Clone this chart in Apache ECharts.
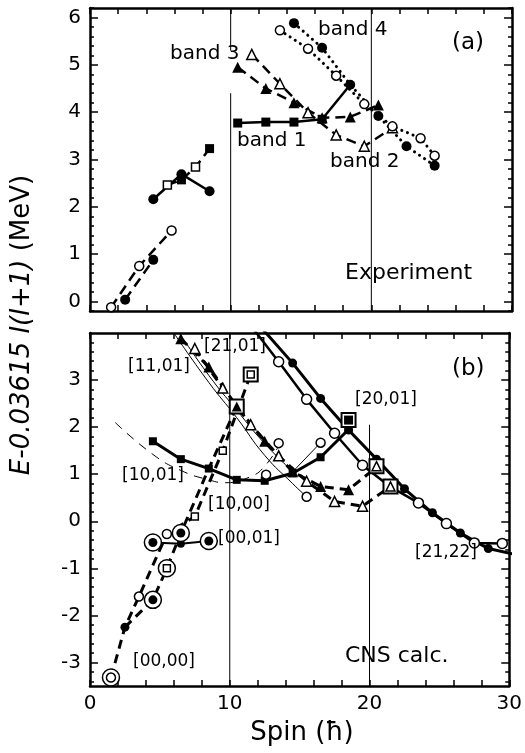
<!DOCTYPE html>
<html><head><meta charset="utf-8">
<script src="https://cdn.jsdelivr.net/npm/echarts@6/dist/echarts.min.js"></script>
<style>html,body{margin:0;padding:0;background:#fff}#c{width:525px;height:753px}</style>
</head><body><div id="c"></div>
<script>
// ---------- tick values ----------
const xTicks = [0,2,4,6,8,10,12,14,16,18,20,22,24,26,28,30];
const xLabels = [0,10,20,30];
const topMajorY = [0,1,2,3,4,5,6];
const botMajorY = [-3,-2,-1,0,1,2,3];

// ---------- (a) Experiment ----------
const tLowOpen    = [[1.5,-0.12],[3.5,0.75],[5.8,1.5]];
const tLowFilled  = [[2.5,0.04],[4.5,0.88]];
const tPairCirc   = [[4.5,2.16],[6.5,2.69],[8.5,2.33]];
const tPairSq     = [[5.5,2.46],[6.5,2.57],[7.5,2.84],[8.5,3.23]];
const tPairSqOpen = [[5.5,2.46],[7.5,2.84]];
const tPairSqFill = [[6.5,2.57],[8.5,3.23]];
const band1       = [[10.5,3.77],[12.5,3.79],[14.5,3.79],[16.5,3.85]];
const band1Link   = [[16.5,3.85],[18.5,4.58]];
const band3       = [[10.5,4.95],[12.5,4.5],[14.5,4.2],[16.5,3.88],[18.5,3.9],[20.5,4.15]];
const band2       = [[11.5,5.22],[13.5,4.6],[15.5,3.99],[17.5,3.52],[19.5,3.28],[21.5,3.67]];
const band4Open   = [[13.5,5.73],[15.5,5.34],[17.5,4.77],[19.5,4.17],[21.5,3.70],[23.5,3.45],[24.5,3.08]];
const band4Filled = [[14.5,5.88],[16.5,5.36],[18.5,4.58],[20.5,3.92],[22.5,3.28],[24.5,2.87]];

// ---------- (b) CNS calc. ----------
const bChainA     = [[1.5,-3.32],[2.5,-2.25],[3.5,-1.6],[5.5,-0.27],[7.5,0.1],[9.5,1.5],[11.5,3.12]];
const bChainB     = [[2.5,-2.25],[4.5,-1.67],[5.5,-1.0],[6.5,-0.25],[8.5,1.12],[10.5,2.44]];
const b0001       = [[4.5,-0.45],[6.5,-0.48],[8.5,-0.42]];
const b1001       = [[4.5,1.70],[6.5,1.32],[8.5,1.12],[10.5,0.88],[12.5,0.86],[14.5,1.02],[16.5,1.36],[18.5,1.95]];
const b1001Thin   = [[14.5,1.05],[16.5,1.67]];
const b1000       = [[1.8,2.1],[4.5,1.42],[6.5,1.08],[8.5,0.88],[9.7,0.82],[11.5,0.95],[12.5,1.17],[13.5,1.6]];
const b1101a      = [[6.0,4.0],[8.5,2.95],[10.5,2.2],[12.5,1.4],[14.5,0.8],[15.5,0.52]];
const b1101b      = [[6.4,4.0],[8.5,3.1],[10.5,2.36],[12.5,1.65],[14.5,1.06]];
const b2101Filled = [[6.5,3.88],[8.5,3.28],[10.5,2.44],[12.5,1.70],[14.5,1.05],[16.5,0.74],[18.5,0.67],[20.5,1.15]];
const b2101Open   = [[7.5,3.67],[9.5,2.83],[11.5,2.05],[13.5,1.39],[15.5,0.85],[17.5,0.42],[19.5,0.32],[21.5,0.74]];
const b2001Filled = [[12.3,4.1],[14.5,3.36],[16.5,2.61],[18.5,1.94],[20.5,1.32],[22.5,0.69],[24.5,0.18],[26.5,-0.25],[28.5,-0.58],[30.5,-0.71]];
const b2001Open   = [[11.4,4.2],[13.5,3.39],[15.5,2.59],[17.5,1.87],[19.5,1.19],[21.5,0.73],[23.5,0.39],[25.5,-0.05],[27.5,-0.46],[29.5,-0.47]];
const bRings      = [[1.5,-3.32],[4.5,-1.67],[5.5,-1.0],[6.5,-0.25],[4.5,-0.45],[8.5,-0.42]];
const bBigSq      = [[10.5,2.44],[11.5,3.12],[18.5,2.15],[20.5,1.17],[21.5,0.74]];
const bFilledCirc = [[2.5,-2.25],[4.5,-1.67],[6.5,-0.25],[4.5,-0.45],[8.5,-0.42]];
const bOpenCirc   = [[1.5,-3.32],[3.5,-1.6],[5.5,-0.27],[12.6,0.99],[13.5,1.66],[16.5,1.67],[15.5,0.52]];
const bOpenSq     = [[5.5,-1.0],[7.5,0.1],[9.5,1.5],[11.5,3.12]];
const bFilledSq   = [[18.5,2.15]];
const bFilledTri  = [[10.5,2.44]];
const bOpenTri    = [[20.5,1.17],[21.5,0.74]];

// vertical reference lines
const vTop10a = [[10,6.2],[10,5.3]];
const vTop10b = [[10,4.4],[10,-0.2]];
const vTop20  = [[20,6.2],[20,-0.2]];
const vBot10  = [[10,4],[10,-3.5]];
const vBot20  = [[20,2.05],[20,-3.5]];

const FONT = 'DejaVu Sans';
function minors(lo, hi, majors){
  const out=[]; for(let k=Math.round(lo*5);k<=Math.round(hi*5);k++){const v=Math.round(k*2)/10; if(!majors.includes(v)) out.push(v);} return out;
}
const topMinorY = minors(-0.2, 6.2, topMajorY);
const botMinorY = minors(-3.4, 3.8, botMajorY.concat([4]));

function xAx(gi,pos,labels){
  return {type:'value',gridIndex:gi,position:pos,min:0,max:30,interval:2,
    axisLine:{show:true,onZero:false,lineStyle:{color:'#000',width:2.5}},
    axisTick:{show:true,inside:true,length:6,customValues:xTicks,lineStyle:{color:'#000',width:1.5}},
    axisLabel:labels?{show:true,customValues:xLabels,fontSize:20,fontFamily:FONT,color:'#000',margin:8}:{show:false},
    splitLine:{show:false}};
}
function yAx(gi,pos,min,max,ticks,len,labels,line){
  return {type:'value',gridIndex:gi,position:pos,min:min,max:max,
    axisLine:{show:line,onZero:false,lineStyle:{color:'#000',width:2.5}},
    axisTick:{show:true,inside:true,length:len,customValues:ticks,lineStyle:{color:'#000',width:1.5}},
    axisLabel:labels?{show:true,customValues:labels,fontSize:20,fontFamily:FONT,color:'#000',margin:9}:{show:false},
    splitLine:{show:false}};
}

function L(data,g,o){
  o=o||{};
  return {type:'line',data:data,xAxisIndex:g?2:0,yAxisIndex:g?4:0,smooth:o.smooth||false,
    symbol:o.sym||'none',showSymbol:!!o.sym,showAllSymbol:true,symbolSize:o.size||9,
    lineStyle:{color:'#000',width:o.w||2.5,type:o.dash||'solid',cap:o.cap||'butt'},
    itemStyle:{color:o.fill?'#000':'#fff',borderColor:'#000',borderWidth:o.fill?0:1.5},
    z:o.sym?3:2,animation:false,silent:true};
}
function M(data,g,sym,size,fill,z,bw){
  return {type:'scatter',data:data,xAxisIndex:g?2:0,yAxisIndex:g?4:0,symbol:sym,symbolSize:size,
    itemStyle:{color:fill?'#000':'#fff',borderColor:'#000',borderWidth:fill?0:(bw||1.5),opacity:1},
    z:z||5,animation:false,silent:true};
}
const DASH=[10,6], TDASH=[9,6], THIN_DASH=[9,7], DOT=[0.1,6];

const series=[
  // vertical lines
  L(vTop10a,0,{w:1}),L(vTop10b,0,{w:1}),L(vTop20,0,{w:1}),
  L(vBot10,1,{w:1}),L(vBot20,1,{w:1}),
  // (a)
  L(tLowOpen,0,{dash:DASH,sym:'circle',size:9}),
  L(tLowFilled,0,{dash:DASH,sym:'circle',fill:true,size:10}),
  L(tPairCirc,0,{sym:'circle',fill:true,size:10}),
  L(tPairSq,0,{dash:DASH}),
  M(tPairSqOpen,0,'rect',8,false,5),
  M(tPairSqFill,0,'rect',9,true,5),
  L(band1Link,0,{}),
  L(band1,0,{sym:'rect',fill:true,size:9}),
  L(band3,0,{dash:DASH,sym:'triangle',fill:true,size:11}),
  L(band2,0,{dash:DASH,sym:'triangle',size:10}),
  L(band4Open,0,{dash:DOT,cap:'round',w:3,sym:'circle',size:9}),
  L(band4Filled,0,{dash:DOT,cap:'round',w:3,sym:'circle',fill:true,size:10}),
  // (b)
  L(b1000,1,{dash:THIN_DASH,w:1,smooth:true}),
  L(b1101a,1,{w:1,smooth:true}),
  L(b1101b,1,{w:1,smooth:true}),
  L(b1001Thin,1,{w:1}),
  L(bChainA,1,{dash:TDASH,w:3}),
  L(bChainB,1,{dash:TDASH,w:3}),
  L(b0001,1,{w:2,sym:'circle',fill:true,size:8}),
  L(b1001,1,{w:3,sym:'rect',fill:true,size:8}),
  L(b2101Filled,1,{dash:TDASH,w:3,sym:'triangle',fill:true,size:11}),
  L(b2101Open,1,{dash:TDASH,w:3,sym:'triangle',size:10}),
  L(b2001Filled,1,{w:3,sym:'circle',fill:true,size:9}),
  L(b2001Open,1,{w:2.5,sym:'circle',size:10}),
  M(bRings,1,'circle',17,false,4,1.5),
  M(bBigSq,1,'rect',14,false,4,2),
  M(bFilledCirc,1,'circle',9,true,5),
  M(bOpenCirc,1,'circle',9,false,5),
  M(bOpenSq,1,'rect',7,false,5),
  M(bFilledSq,1,'rect',9,true,5),
  M(bFilledTri,1,'triangle',10,true,5),
  M(bOpenTri,1,'triangle',9,false,5)
];

const labels=[
  ['band 4',318,30,20],['band 3',170,54,20],['band 1',237,141,20],['band 2',330,162,20],
  ['(a)',452,43,23],['Experiment',345,273,22],
  ['[21,01]',204,347,17],['[11,01]',128,367,17],['(b)',452,369,23],['[20,01]',355,400,17],
  ['[10,01]',122,476,17],['[10,00]',208,505,17],['[00,01]',218,539,17],['[21,22]',415,553,17],
  ['[00,00]',133,662,17],['CNS calc.',345,656,22]
];
const graphic=labels.map(l=>({type:'text',x:l[1],y:l[2],z:100,silent:true,
  style:{text:l[0],fontSize:l[3],fontFamily:FONT,fill:'#000',align:'left',verticalAlign:'middle'}}));
graphic.push({type:'text',x:22,y:325,rotation:Math.PI/2,z:100,silent:true,
  style:{text:'{i|E-0.03615 I(I+1)} {n|(MeV)}',align:'center',verticalAlign:'middle',fill:'#000',
    fontSize:26,fontFamily:FONT,
    rich:{i:{fontStyle:'italic',fontSize:26,fontFamily:FONT,fill:'#000'},n:{fontSize:26,fontFamily:FONT,fill:'#000'}}}});
graphic.push({type:'text',x:302,y:733,z:100,silent:true,
  style:{text:'Spin (ħ)',align:'center',verticalAlign:'middle',fontSize:26,fontFamily:FONT,fill:'#000'}});

const chart=echarts.init(document.getElementById('c'),null,{renderer:'canvas'});
chart.setOption({
  backgroundColor:'#fff',animation:false,
  grid:[{left:90,top:8,width:422,height:303},{left:90,top:333,width:422,height:353}],
  xAxis:[xAx(0,'bottom',false),xAx(0,'top',false),xAx(1,'bottom',true),xAx(1,'top',false)],
  yAxis:[
    yAx(0,'left',-0.2,6.2,topMajorY,8,topMajorY,true),
    yAx(0,'right',-0.2,6.2,topMajorY,8,null,true),
    yAx(0,'left',-0.2,6.2,topMinorY,4,null,false),
    yAx(0,'right',-0.2,6.2,topMinorY,4,null,false),
    yAx(1,'left',-3.5,4,botMajorY,8,botMajorY,true),
    yAx(1,'right',-3.5,4,botMajorY,8,null,true),
    yAx(1,'left',-3.5,4,botMinorY,4,null,false),
    yAx(1,'right',-3.5,4,botMinorY,4,null,false)
  ],
  series:series,
  graphic:graphic
});
</script></body></html>
